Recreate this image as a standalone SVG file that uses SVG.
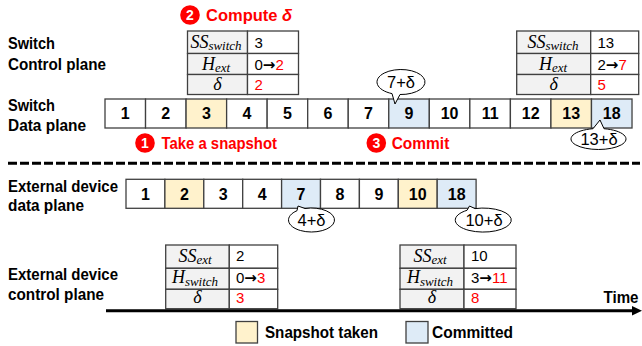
<svg xmlns="http://www.w3.org/2000/svg" width="642" height="346" viewBox="0 0 642 346">
<defs>
<style>
.lbl{font-family:"Liberation Sans",Arial,sans-serif;font-weight:bold;font-size:16.5px;fill:#000}
.cell{stroke:#404040;stroke-width:1.3}
.w{fill:#fff}
.y{fill:#FFF2CC}
.b{fill:#DEEBF7}
.num{font-family:"Liberation Sans",Arial,sans-serif;font-weight:bold;font-size:16px;text-anchor:middle;fill:#000}
.tk{fill:#F2F2F2;stroke:#404040;stroke-width:1.3}
.tv{fill:#fff;stroke:#404040;stroke-width:1.3}
.math{font-family:"Liberation Serif","Times New Roman",serif;font-style:italic;font-size:18px;text-anchor:middle;fill:#000}
.sub{font-size:13px}
.val{font-family:"Liberation Sans",Arial,sans-serif;font-size:15px;fill:#000}
.arr{font-family:"DejaVu Sans",sans-serif;font-weight:bold;font-size:15px}
.red{fill:#FF0000}
.step{font-family:"Liberation Sans",Arial,sans-serif;font-weight:bold;font-size:16.5px;fill:#FF0000}
.stepn{font-family:"Liberation Sans",Arial,sans-serif;font-weight:bold;font-size:14px;fill:#fff;text-anchor:middle}
.bub{fill:#fff;stroke:#000;stroke-width:1}
.bt{font-family:"Liberation Sans",Arial,sans-serif;font-size:16.5px;text-anchor:middle;fill:#000}
</style>
</defs>
<rect width="642" height="346" fill="#fff"/>

<g id="labels">
<text class="lbl" x="8" y="49" textLength="47" lengthAdjust="spacingAndGlyphs">Switch</text>
<text class="lbl" x="8" y="69.5" textLength="98" lengthAdjust="spacingAndGlyphs">Control plane</text>
<text class="lbl" x="8" y="111" textLength="47" lengthAdjust="spacingAndGlyphs">Switch</text>
<text class="lbl" x="8" y="131" textLength="78" lengthAdjust="spacingAndGlyphs">Data plane</text>
<text class="lbl" x="8" y="191.5" textLength="110" lengthAdjust="spacingAndGlyphs">External device</text>
<text class="lbl" x="8" y="211" textLength="76" lengthAdjust="spacingAndGlyphs">data plane</text>
<text class="lbl" x="8" y="280" textLength="110" lengthAdjust="spacingAndGlyphs">External device</text>
<text class="lbl" x="8" y="299.5" textLength="96" lengthAdjust="spacingAndGlyphs">control plane</text>
</g>

<g id="step2">
<circle cx="190" cy="15" r="9.8" fill="#FF0000"/>
<text class="stepn" x="190" y="20">2</text>
<text class="step" x="206" y="21" font-size="16px">Compute <tspan font-style="italic">δ</tspan></text>
</g>
<g id="step1">
<circle cx="145" cy="143" r="9.8" fill="#FF0000"/>
<text class="stepn" x="145" y="148">1</text>
<text class="step" x="161.5" y="148.5" textLength="115.5" lengthAdjust="spacingAndGlyphs">Take a snapshot</text>
</g>
<g id="step3">
<circle cx="376.3" cy="143" r="9.8" fill="#FF0000"/>
<text class="stepn" x="376.3" y="148">3</text>
<text class="step" x="391.7" y="148.5" textLength="57.6" lengthAdjust="spacingAndGlyphs">Commit</text>
</g>

<g id="switch-table-1">
<rect class="tk" x="187.5" y="31" width="60" height="22.5"/>
<rect class="tv" x="247.5" y="31" width="51" height="22.5"/>
<rect class="tk" x="187.5" y="53.5" width="60" height="21"/>
<rect class="tv" x="247.5" y="53.5" width="51" height="21"/>
<rect class="tk" x="187.5" y="74.5" width="60" height="20"/>
<rect class="tv" x="247.5" y="74.5" width="51" height="20"/>
<text class="math" x="216" y="48">SS<tspan class="sub" dy="2">switch</tspan></text>
<text class="math" x="216" y="69.5">H<tspan class="sub" dy="2">ext</tspan></text>
<text class="math" x="217.5" y="90" font-style="normal">δ</text>
<text class="val" x="254.5" y="47.5">3</text>
<text class="val" x="254.5" y="69.5">0<tspan class="arr">→</tspan><tspan class="red">2</tspan></text>
<text class="val red" x="254.5" y="90">2</text>
</g>

<g id="switch-table-2">
<rect class="tk" x="516.7" y="31" width="74" height="22.5"/>
<rect class="tv" x="590.7" y="31" width="48" height="22.5"/>
<rect class="tk" x="516.7" y="53.5" width="74" height="21"/>
<rect class="tv" x="590.7" y="53.5" width="48" height="21"/>
<rect class="tk" x="516.7" y="74.5" width="74" height="20"/>
<rect class="tv" x="590.7" y="74.5" width="48" height="20"/>
<text class="math" x="553" y="48">SS<tspan class="sub" dy="2">switch</tspan></text>
<text class="math" x="553" y="69.5">H<tspan class="sub" dy="2">ext</tspan></text>
<text class="math" x="553.7" y="90" font-style="normal">δ</text>
<text class="val" x="597.5" y="47.5">13</text>
<text class="val" x="597.5" y="69.5">2<tspan class="arr">→</tspan><tspan class="red">7</tspan></text>
<text class="val red" x="597.5" y="90">5</text>
</g>

<g id="switch-data-plane">
<rect class="cell w" x="105" y="99" width="40.54" height="29"/>
<rect class="cell w" x="145.54" y="99" width="40.54" height="29"/>
<rect class="cell y" x="186.08" y="99" width="40.54" height="29"/>
<rect class="cell w" x="226.62" y="99" width="40.54" height="29"/>
<rect class="cell w" x="267.16" y="99" width="40.54" height="29"/>
<rect class="cell w" x="307.7" y="99" width="40.54" height="29"/>
<rect class="cell w" x="348.24" y="99" width="40.54" height="29"/>
<rect class="cell b" x="388.78" y="99" width="40.54" height="29"/>
<rect class="cell w" x="429.32" y="99" width="40.54" height="29"/>
<rect class="cell w" x="469.86" y="99" width="40.54" height="29"/>
<rect class="cell w" x="510.4" y="99" width="40.54" height="29"/>
<rect class="cell y" x="550.94" y="99" width="40.54" height="29"/>
<rect class="cell b" x="591.48" y="99" width="40.54" height="29"/>
<text class="num" x="125.27" y="119.3">1</text>
<text class="num" x="165.81" y="119.3">2</text>
<text class="num" x="206.35" y="119.3">3</text>
<text class="num" x="246.89" y="119.3">4</text>
<text class="num" x="287.43" y="119.3">5</text>
<text class="num" x="327.97" y="119.3">6</text>
<text class="num" x="368.51" y="119.3">7</text>
<text class="num" x="409.05" y="119.3">9</text>
<text class="num" x="449.59" y="119.3">10</text>
<text class="num" x="490.13" y="119.3">11</text>
<text class="num" x="530.67" y="119.3">12</text>
<text class="num" x="571.21" y="119.3">13</text>
<text class="num" x="611.75" y="119.3">18</text>
</g>

<g id="callout-7">
<path class="bub" d="M 392 93.6 A 24 12.5 0 1 1 400 94.5 L 395 104 Z"/>
<text class="bt" x="401" y="88">7+δ</text>
</g>
<g id="callout-13">
<path class="bub" d="M 604 128.7 A 27.5 10.5 0 1 1 593 128.7 L 600 120 Z"/>
<text class="bt" x="599" y="145">13+δ</text>
</g>

<g id="separator">
<line x1="8" y1="163.3" x2="640" y2="163.3" stroke="#000" stroke-width="3" stroke-dasharray="9 3"/>
</g>

<g id="ext-data-plane">
<rect class="cell w" x="126" y="179.3" width="38.9" height="29"/>
<rect class="cell y" x="164.9" y="179.3" width="38.9" height="29"/>
<rect class="cell w" x="203.8" y="179.3" width="38.9" height="29"/>
<rect class="cell w" x="242.7" y="179.3" width="38.9" height="29"/>
<rect class="cell b" x="281.6" y="179.3" width="38.9" height="29"/>
<rect class="cell w" x="320.5" y="179.3" width="38.9" height="29"/>
<rect class="cell w" x="359.4" y="179.3" width="38.9" height="29"/>
<rect class="cell y" x="398.3" y="179.3" width="38.9" height="29"/>
<rect class="cell b" x="437.2" y="179.3" width="38.9" height="29"/>
<text class="num" x="145.45" y="199.6">1</text>
<text class="num" x="184.35" y="199.6">2</text>
<text class="num" x="223.25" y="199.6">3</text>
<text class="num" x="262.15" y="199.6">4</text>
<text class="num" x="301.05" y="199.6">7</text>
<text class="num" x="339.95" y="199.6">8</text>
<text class="num" x="378.85" y="199.6">9</text>
<text class="num" x="417.75" y="199.6">10</text>
<text class="num" x="456.65" y="199.6">18</text>
</g>

<g id="callout-4">
<path class="bub" d="M 305 208.5 A 23 12 0 1 1 297 210.7 L 298 206 Z"/>
<text class="bt" x="311.5" y="226">4+δ</text>
</g>
<g id="callout-10">
<path class="bub" d="M 475 208.6 A 28 12 0 1 1 467 210.3 L 469.5 206 Z"/>
<text class="bt" x="484" y="226">10+δ</text>
</g>

<g id="ext-table-1">
<rect class="tk" x="165.7" y="245" width="63.6" height="23.3"/>
<rect class="tv" x="229.3" y="245" width="48.4" height="23.3"/>
<rect class="tk" x="165.7" y="268.3" width="63.6" height="21"/>
<rect class="tv" x="229.3" y="268.3" width="48.4" height="21"/>
<rect class="tk" x="165.7" y="289.3" width="63.6" height="19.4"/>
<rect class="tv" x="229.3" y="289.3" width="48.4" height="19.4"/>
<text class="math" x="195" y="261.7">SS<tspan class="sub" dy="2.5">ext</tspan></text>
<text class="math" x="195" y="283.3">H<tspan class="sub" dy="2.5">switch</tspan></text>
<text class="math" x="197.5" y="303.3" font-style="normal">δ</text>
<text class="val" x="236" y="261">2</text>
<text class="val" x="236" y="283.3">0<tspan class="arr">→</tspan><tspan class="red">3</tspan></text>
<text class="val red" x="236" y="303.3">3</text>
</g>

<g id="ext-table-2">
<rect class="tk" x="400" y="245" width="64" height="23.3"/>
<rect class="tv" x="464" y="245" width="52" height="23.3"/>
<rect class="tk" x="400" y="268.3" width="64" height="21"/>
<rect class="tv" x="464" y="268.3" width="52" height="21"/>
<rect class="tk" x="400" y="289.3" width="64" height="19.4"/>
<rect class="tv" x="464" y="289.3" width="52" height="19.4"/>
<text class="math" x="430" y="261.7">SS<tspan class="sub" dy="2.5">ext</tspan></text>
<text class="math" x="430" y="283.3">H<tspan class="sub" dy="2.5">switch</tspan></text>
<text class="math" x="432" y="303.3" font-style="normal">δ</text>
<text class="val" x="471" y="261">10</text>
<text class="val" x="471" y="283.3">3<tspan class="arr">→</tspan><tspan class="red">11</tspan></text>
<text class="val red" x="471" y="303.3">8</text>
</g>

<g id="connectors">
<line x1="106" y1="310.7" x2="634" y2="310.7" stroke="#000" stroke-width="3"/>
<polygon points="632,306 642,310.7 632,315.4" fill="#000"/>
</g>
<text class="lbl" x="603.5" y="303.3" textLength="35" lengthAdjust="spacingAndGlyphs">Time</text>

<g id="legend">
<rect class="cell y" x="236" y="321.5" width="21.5" height="21.5"/>
<text class="lbl" x="265" y="338" textLength="113" lengthAdjust="spacingAndGlyphs">Snapshot taken</text>
<rect class="cell b" x="406" y="321.5" width="22" height="21.5"/>
<text class="lbl" x="432" y="338" textLength="81" lengthAdjust="spacingAndGlyphs">Committed</text>
</g>
</svg>
